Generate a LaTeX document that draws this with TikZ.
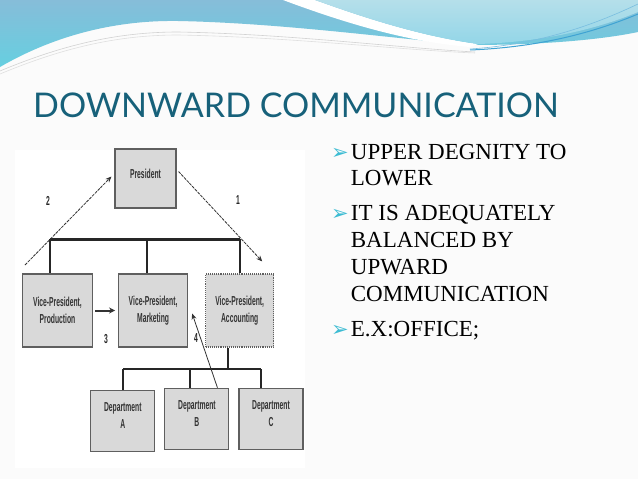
\documentclass[tikz,border=0pt]{standalone}
\usepackage{fontspec}
\setmainfont{Liberation Serif}
\newfontfamily\titlefont{Lato}
\newfontfamily\boxfont[FakeStretch=0.52]{Liberation Sans}
\newfontfamily\symfont{DejaVu Sans}
\usetikzlibrary{arrows.meta, positioning}
\definecolor{titleteal}{HTML}{17617A}
\definecolor{bulletcyan}{HTML}{3DBCD3}
\definecolor{boxgray}{HTML}{D9D9D9}
\definecolor{edgegray}{HTML}{5F5F5F}
\definecolor{wavetop}{HTML}{86BDD9}
\definecolor{wavebot}{HTML}{66CFE0}
\definecolor{lighttop}{HTML}{B5DFEA}
\definecolor{lightbot}{HTML}{93D6E8}
\definecolor{strandblue}{HTML}{3FA3D3}

\begin{document}
\begin{tikzpicture}[
        x=1pt, y=-1pt,
        node distance=25pt and 17pt,
        % Box styles
        presbox/.style={rectangle, draw=edgegray, line width=1.1pt, fill=boxgray, minimum width=61pt, minimum height=59pt, inner sep=0pt, align=center, text=black!80, font=\boxfont\bfseries\fontsize{13}{17}\selectfont},
        vpbox/.style={presbox, minimum width=70pt, minimum height=73pt},
        deptbox/.style={presbox, minimum width=64pt, minimum height=61pt},
        bar/.style={draw=black!85, line width=2pt},
        flow/.style={draw=black!80, line width=0.8pt, -{Stealth[length=6pt, width=5pt]}},
        num/.style={font=\boxfont\bfseries\fontsize{13}{14}\selectfont, text=black!85},
        % Slide text styles
        line/.style={anchor=base west, inner sep=0pt, font=\fontsize{23}{27}\selectfont},
        bullet/.style={anchor=base west, inner sep=0pt, text=bulletcyan, font=\symfont\fontsize{21}{21}\selectfont}
    ]

    \useasboundingbox (0,0) rectangle (638,479);
    \fill[gray!3] (0,0) rectangle (638,479);
    \fill[white] (15,150) rectangle (305,468);

    % --- HEADER WAVE ---
    \shade[top color=wavetop, bottom color=wavebot] (0,0) -- (0,67) .. controls (50,38) and (110,20) .. (178,21) .. controls (280,23) and (390,38) .. (470,45) .. controls (540,45) and (600,40) .. (638,32) -- (638,0) -- cycle;
    \fill[white] (283,0) .. controls (350,25) and (410,42) .. (470,47) -- (478,44) .. controls (420,36) and (365,18) .. (315,0) -- cycle;
    \shade[top color=lighttop, bottom color=lightbot] (315,0) .. controls (365,18) and (420,36) .. (478,44) .. controls (545,42) and (600,28) .. (638,12) -- (638,0) -- cycle;
    \draw[gray!35, line width=0.6pt] (0,71) .. controls (60,46) and (115,32) .. (178,32) .. controls (290,34) and (400,48) .. (475,52);
    \draw[gray!25, line width=0.6pt] (0,74) .. controls (60,49) and (115,35) .. (178,35) .. controls (290,37) and (400,50) .. (475,53);
    \draw[strandblue, line width=1pt] (470,50) .. controls (545,47) and (600,30) .. (638,14);
    \draw[strandblue!70, line width=0.6pt] (470,49) .. controls (545,44) and (600,22) .. (638,4);

    % --- TITLE AND BULLETS ---
    \node (title) [anchor=base west, inner sep=0pt, text=titleteal, font=\titlefont\fontsize{34}{40}\selectfont] at (33,117) {DOWNWARD COMMUNICATION};

    \node (b1) [bullet] at (331,159.3) {➢};
    \node (t1a) [line] at (350.7,159.3) {UPPER DEGNITY TO};
    \node (t1b) [line] at (350.7,185.5) {LOWER};
    \node (b2) [bullet] at (331,220.7) {➢};
    \node (t2a) [line] at (350.7,220.7) {IT IS ADEQUATELY};
    \node (t2b) [line] at (350.7,247) {BALANCED BY};
    \node (t2c) [line] at (350.7,274) {UPWARD};
    \node (t2d) [line] at (350.7,301.5) {COMMUNICATION};
    \node (b3) [bullet] at (331,336) {➢};
    \node (t3a) [line] at (350.7,336) {E.X:OFFICE;};

    % --- CHART BOXES ---
    \node (pres) [presbox] at (145.5,178.5) {President\\[-8pt]};
    \node (vpprod) [vpbox] at (57.5,310.5) {Vice-President,\\Production};
    \node (vpmkt) [vpbox, minimum width=69pt, right=25pt of vpprod] {Vice-President,\\Marketing};
    \node (vpacc) [vpbox, minimum width=68pt, right=17pt of vpmkt, densely dotted] {Vice-President,\\Accounting};

    \node (deptA) [deptbox] at (122.8,420.8) {Department\\A\\[-6pt]};
    \node (deptB) [deptbox, right=9pt of deptA, yshift=2pt] {Department\\B\\[-6pt]};
    \node (deptC) [deptbox, right=9pt of deptB] {Department\\C\\[-6pt]};

    % --- CONNECTING BARS ---
    \coordinate (vpbarL) at (50,239);
    \coordinate (vpbarM) at (146.7,239);
    \coordinate (vpbarR) at (240,239);
    \draw [bar, line width=3pt] (vpbarL) -- (vpbarR);
    \draw [bar] (vpbarL) -- (vpbarL |- vpprod.north);
    \draw [bar] (vpbarM) -- (vpbarM |- vpmkt.north);
    \draw [bar] (vpbarR) -- (vpbarR |- vpacc.north);

    \coordinate (accdrop) at (228.3,369);
    \coordinate (dbarL) at (123.3,369);
    \coordinate (dbarM) at (190,369);
    \coordinate (dbarR) at (260.7,369);
    \draw [bar] (accdrop |- vpacc.south) -- (accdrop);
    \draw [bar] (dbarL) -- (dbarR);
    \draw [bar] (dbarL) -- (dbarL |- deptA.north);
    \draw [bar] (dbarM) -- (dbarM |- deptB.north);
    \draw [bar] (dbarR) -- (dbarR |- deptC.north);

    % --- COMMUNICATION ARROWS ---
    \coordinate (a2from) at (25,265);
    \draw [flow, dash pattern=on 3pt off 1pt] (a2from) -- ([xshift=-3pt, yshift=2pt]pres.west);
    \draw [flow, dash pattern=on 3pt off 1pt] ([xshift=2pt, yshift=7pt]pres.east) -- ([xshift=-12pt, yshift=12pt]vpacc.north east);
    \draw [flow, line width=2pt, shorten <=2pt, shorten >=3pt, -{Stealth[length=6pt, width=6pt]}] (vpprod) -- (vpmkt);
    \draw [flow] ([xshift=-12pt]deptB.north east) -- ([xshift=4pt, yshift=-3pt]vpmkt.east);

    \node (n2) [num] at (48,201) {2};
    \node (n1) [num] at (238,200) {1};
    \node (n3) [num] at (106,339) {3};
    \node (n4) [num] at (196,338) {4};

\end{tikzpicture}
\end{document}
